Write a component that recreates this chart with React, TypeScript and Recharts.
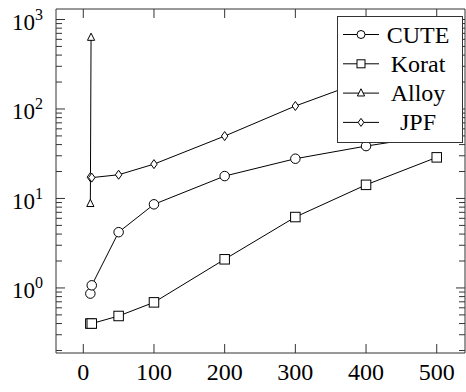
import { ComposedChart, Legend, Line, XAxis, YAxis } from "recharts";

const sizes = [10, 12, 50, 100, 200, 300, 400, 500];
const cute = [0.865, 1.07, 4.2, 8.6, 17.8, 27.8, 38.5, 51];
const korat = [0.4, 0.4, 0.486, 0.69, 2.09, 6.2, 14.2, 28.8];
const alloySizes = [10, 11];
const alloy = [8.75, 630];
const jpf = [17.3, 17.1, 18.4, 24.2, 49.8, 108, 210, 400];

const xTicks = [0, 100, 200, 300, 400, 500];
const yTicks = [
  0.2, 0.3, 0.4, 0.5, 0.6, 0.7, 0.8, 0.9, 1, 2, 3, 4, 5, 6, 7, 8, 9, 10, 20, 30, 40, 50, 60, 70, 80, 90, 100, 200,
  300, 400, 500, 600, 700, 800, 900, 1000,
];

const FONT = "Liberation Serif, Times New Roman, Times, DejaVu Serif, serif";
const AXIS = "#333";

type Pt = { x: number; y: number };
const zip = (xs: number[], ys: number[]): Pt[] => xs.map((x, i) => ({ x, y: ys[i] }));

const cutePts = zip(sizes, cute);
const koratPts = zip(sizes, korat);
const alloyPts = zip(alloySizes, alloy);
const jpfPts = zip(sizes, jpf);

type Shape = "circle" | "square" | "triangle" | "diamond";

function marker(shape: Shape, cx: number, cy: number, s: number, key?: string | number) {
  const common = { fill: "#fff", stroke: "#000", strokeWidth: 1 };
  if (shape === "circle") return <circle key={key} cx={cx} cy={cy} r={s * 0.5} {...common} />;
  if (shape === "square")
    return <rect key={key} x={cx - s * 0.5} y={cy - s * 0.5} width={s} height={s} {...common} />;
  if (shape === "triangle") {
    const h = s * 0.9;
    return (
      <polygon
        key={key}
        points={`${cx},${cy - h * 0.6} ${cx + s * 0.45},${cy + h * 0.4} ${cx - s * 0.45},${cy + h * 0.4}`}
        {...common}
      />
    );
  }
  return (
    <polygon
      key={key}
      points={`${cx},${cy - s * 0.5} ${cx + s * 0.36},${cy} ${cx},${cy + s * 0.5} ${cx - s * 0.36},${cy}`}
      {...common}
    />
  );
}

const dotFor = (shape: Shape, size: number) => (p: any) =>
  p.cx == null || p.cy == null ? <g key={p.key} /> : marker(shape, p.cx, p.cy, size, p.key);

const isMajor = (v: number) => Math.abs(Math.log10(v) - Math.round(Math.log10(v))) < 1e-9;

const textStyle = { fontFamily: FONT, fill: "#000" };

function LeftTick({ x, y, payload }: any) {
  const v = payload.value as number;
  const major = isMajor(v);
  return (
    <g>
      <line x1={x} x2={x + (major ? 9 : 6)} y1={y} y2={y} stroke={AXIS} />
      {major && (
        <text x={x - 13} y={y + 10.5} textAnchor="end" fontSize={23} style={textStyle}>
          10
          <tspan dy={-10} fontSize={16}>
            {Math.round(Math.log10(v))}
          </tspan>
        </text>
      )}
    </g>
  );
}

function RightTick({ x, y, payload }: any) {
  const major = isMajor(payload.value);
  return <line x1={x} x2={x - (major ? 9 : 6)} y1={y} y2={y} stroke={AXIS} />;
}

function BottomTick({ x, y, payload }: any) {
  return (
    <g>
      <line x1={x} x2={x} y1={y} y2={y - 9} stroke={AXIS} />
      <text x={x} y={y + 27} textAnchor="middle" fontSize={24} style={textStyle}>
        {payload.value}
      </text>
    </g>
  );
}

function TopTick({ x, y }: any) {
  return <line x1={x} x2={x} y1={y} y2={y + 9} stroke={AXIS} />;
}

const legendItems: { name: string; shape: Shape }[] = [
  { name: "CUTE", shape: "circle" },
  { name: "Korat", shape: "square" },
  { name: "Alloy", shape: "triangle" },
  { name: "JPF", shape: "diamond" },
];

function LegendBox() {
  return (
    <svg width={126} height={127} style={{ display: "block" }}>
      <rect x={0.5} y={0.5} width={125} height={126} fill="#fff" stroke={AXIS} />
      {legendItems.map((it, i) => {
        const cy = 18.5 + i * 29.3;
        return (
          <g key={it.name}>
            <line x1={6} x2={42} y1={cy} y2={cy} stroke="#000" />
            {marker(it.shape, 24, cy, 8)}
            <text x={81} y={cy + 8} textAnchor="middle" fontSize={24} style={textStyle}>
              {it.name}
            </text>
          </g>
        );
      })}
    </svg>
  );
}

export default function App() {
  return (
    <div style={{ position: "absolute", left: 0, top: 0, background: "#fff", fontFamily: FONT }}>
      <ComposedChart width={466} height={392} margin={{ top: 0, right: 0, bottom: 0, left: 0 }}>
        <XAxis
          xAxisId="b"
          type="number"
          dataKey="x"
          domain={[-38.6, 540]}
          allowDataOverflow
          ticks={xTicks}
          interval={0}
          height={39}
          tickSize={0}
          tickMargin={0}
          tickLine={false}
          tick={<BottomTick />}
          axisLine={{ stroke: AXIS }}
        />
        <XAxis
          xAxisId="t"
          orientation="top"
          type="number"
          dataKey="x"
          domain={[-38.6, 540]}
          allowDataOverflow
          ticks={xTicks}
          interval={0}
          height={9}
          tickSize={0}
          tickMargin={0}
          tickLine={false}
          tick={<TopTick />}
          axisLine={{ stroke: AXIS }}
        />
        <YAxis
          yAxisId="l"
          type="number"
          scale="log"
          domain={[0.1875, 1310]}
          allowDataOverflow
          ticks={yTicks}
          interval={0}
          width={56}
          tickSize={0}
          tickMargin={0}
          tickLine={false}
          tick={<LeftTick />}
          axisLine={{ stroke: AXIS }}
        />
        <YAxis
          yAxisId="r"
          orientation="right"
          type="number"
          scale="log"
          domain={[0.1875, 1310]}
          allowDataOverflow
          ticks={yTicks}
          interval={0}
          width={1}
          tickSize={0}
          tickMargin={0}
          tickLine={false}
          tick={<RightTick />}
          axisLine={{ stroke: AXIS }}
        />
        <Line
          xAxisId="t"
          yAxisId="r"
          data={koratPts}
          dataKey="y"
          stroke="none"
          dot={false}
          legendType="none"
          isAnimationActive={false}
        />
        <Line
          xAxisId="b"
          yAxisId="l"
          data={jpfPts}
          dataKey="y"
          name="JPF"
          stroke="#000"
          strokeWidth={1}
          dot={dotFor("diamond", 9)}
          isAnimationActive={false}
        />
        <Line
          xAxisId="b"
          yAxisId="l"
          data={alloyPts}
          dataKey="y"
          name="Alloy"
          stroke="#000"
          strokeWidth={1}
          dot={dotFor("triangle", 8)}
          isAnimationActive={false}
        />
        <Line
          xAxisId="b"
          yAxisId="l"
          data={koratPts}
          dataKey="y"
          name="Korat"
          stroke="#000"
          strokeWidth={1}
          dot={dotFor("square", 9.5)}
          isAnimationActive={false}
        />
        <Line
          xAxisId="b"
          yAxisId="l"
          data={cutePts}
          dataKey="y"
          name="CUTE"
          stroke="#000"
          strokeWidth={1}
          dot={dotFor("circle", 9.5)}
          isAnimationActive={false}
        />
        <Legend
          layout="horizontal"
          verticalAlign="middle"
          align="center"
          content={<LegendBox />}
          wrapperStyle={{ position: "absolute", left: 337, top: 16, width: 126, height: 127 }}
        />
      </ComposedChart>
    </div>
  );
}
